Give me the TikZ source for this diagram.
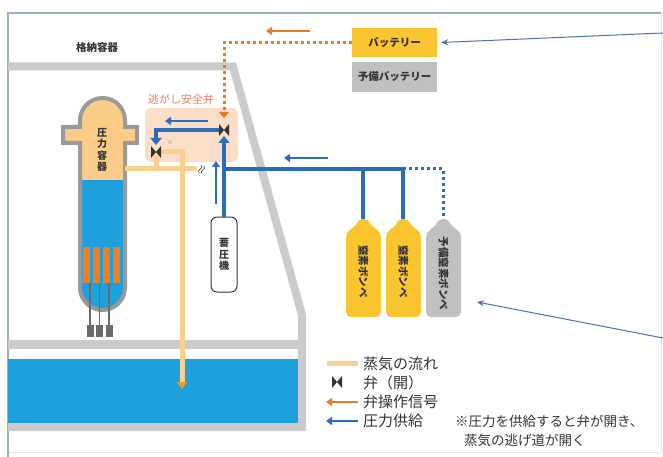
\documentclass[tikz,border=0pt]{standalone}
\usepackage{fontspec}
\setmainfont{Noto Sans CJK JP}
\usepackage{tikz}
\usetikzlibrary{arrows.meta}
\usepackage{xcolor}
\definecolor{pool-blue}{HTML}{1EA0DC}
\definecolor{wall-gray}{HTML}{CBCBCB}
\definecolor{hull-gray}{HTML}{999999}
\definecolor{steam}{HTML}{FBCF8F}
\definecolor{steam-tip}{HTML}{F39A2B}
\definecolor{signal}{HTML}{E97B22}
\definecolor{pipe-blue}{HTML}{2A6DB9}
\definecolor{srv-pink}{HTML}{FCDDC8}
\definecolor{srv-text}{HTML}{EE7C68}
\definecolor{gold}{HTML}{FBC52F}
\definecolor{spare-gray}{HTML}{C0C0C0}
\definecolor{rod}{HTML}{F07E24}
\definecolor{frame-blue}{HTML}{97AED0}
\definecolor{note-blue}{HTML}{4A72B2}
\definecolor{ink}{HTML}{333333}

\tikzset{
  valve/.pic={\fill[ink] (-5,-6) -- (5,6) -- (5,-6) -- (-5,6) -- cycle;},
  pipe/.style={pipe-blue, line width=4.5pt},
  spare pipe/.style={pipe-blue, line width=3pt, dash pattern=on 3pt off 3pt},
  steam pipe/.style={steam, line width=5pt},
  flow/.style={pipe-blue, line width=2.5pt, -{Triangle[length=6pt,width=8pt]}},
  sig/.style={signal, line width=2.5pt, -{Triangle[length=6pt,width=8pt]}},
  label/.style={text=ink, font=\bfseries\fontsize{10.5}{11}\selectfont, inner sep=0pt},
  stack/.style={label, align=center, font=\bfseries\fontsize{10}{11.5}\selectfont},
  batt/.style={label, minimum width=85pt, minimum height=29pt},
  legend/.style={text=ink, anchor=west, inner sep=0pt, font=\fontsize{15}{18}\selectfont},
  pointer/.style={note-blue, line width=1pt, -{Stealth[length=7pt,width=6pt]}}
}

\begin{document}
\begin{tikzpicture}[x=1pt, y=-1pt]
    \useasboundingbox (0,0) rectangle (663,457);

    % frame
    \draw[frame-blue!35, line width=1pt] (661,13) -- (661,452) -- (8,452);
    \draw[frame-blue, line width=1.2pt] (8,457) -- (8,13) -- (661,13);

    % containment walls and pool
    \fill[pool-blue] (8,359) rectangle (297.5,423);
    \draw[wall-gray, line width=8pt] (8,66.5) -- (233,66.5) -- (302,315) -- (302,427) -- (8,427);
    \draw[wall-gray, line width=9pt] (8,344.5) -- (302,344.5);
    \node[label] (pcv) at (97,48) {格納容器};

    % pressure vessel
    \draw[hull-gray, line width=4pt, path picture={
        \fill[steam!95!orange] (55,90) rectangle (145,180);
        \fill[pool-blue] (55,180) rectangle (145,320);}]
      (80,120.5) -- (80,127) -- (63,127) -- (63,143) -- (80,143) -- (80,287.5)
      arc[start angle=180, end angle=0, radius=22.5] -- (125,143) -- (137,143)
      -- (137,127) -- (125,127) -- (125,120.5)
      arc[start angle=0, end angle=-180, radius=22.5] -- cycle;
    \node[stack] (rpv) at (102,150) {圧\\力\\容\\器};
    \foreach \x in {86.5, 96.5, 106.5, 116.5}
      \fill[rod] (\x-3.5,247) rectangle (\x+3.5,283);
    \foreach \x in {90, 99.5, 109} {
      \draw[hull-gray!70!black, line width=1.5pt] (\x,283) -- (\x,326);
      \fill[hull-gray!70!black] (\x-3.5,325) rectangle (\x+3.5,337);
    }

    % safety relief valve
    \node[fill=srv-pink, rounded corners=6pt, minimum width=93pt, minimum height=54pt] (srv) at (191.5,135) {};
    \node[text=srv-text, inner sep=0pt, font=\fontsize{11}{12}\selectfont] (srv-label) at (181,99) {逃がし安全弁};
    \coordinate (pilot) at (224,130);
    \coordinate (main) at (156,152);
    \coordinate (hdr) at (403,169);
    \coordinate (tee) at (224,169);

    % steam path
    \draw[steam pipe] (125,169) -- (197,169);
    \draw[steam pipe] (main |- tee) -- ([yshift=-4pt]main);
    \draw[steam pipe, -{Triangle[length=7pt,width=10pt,color=steam-tip]}] ([xshift=4pt]main) -- (182,152) -- (182,389);
    \node[inner sep=0pt, font=\fontsize{12}{12}\selectfont, rotate=70] (gap) at (202,170) {$\approx$};
    \node[text=gray, inner sep=0pt, font=\fontsize{5}{5}\selectfont] (mark) at (170,143) {※};

    % accumulator and nitrogen bottles
    \node[draw=ink, fill=white, line width=1pt, rounded corners=6pt, minimum width=26pt, minimum height=75pt, stack] (accum) at (224,254.5) {蓄\\圧\\機};
    \foreach \x/\c in {363.5/gold, 403.5/gold, 443.5/spare-gray} {
      \fill[\c, rounded corners=5pt] (\x-17.5,317) -- (\x-17.5,232) -- (\x-6,225) -- (\x-6,219)
        -- (\x+6,219) -- (\x+6,225) -- (\x+17.5,232) -- (\x+17.5,317) -- cycle;
    }
    \node[label, rotate=-90] (n2a) at (363.5,271.5) {窒素ボンベ};
    \node[label, rotate=-90] (n2b) at (403.5,271.5) {窒素ボンベ};
    \node[label, rotate=-90] (n2c) at (443.5,273.5) {予備窒素ボンベ};

    % pressure supply
    \draw[pipe] (tee) -- (hdr) -- (403,219);
    \draw[pipe] (363,169) -- (363,219);
    \draw[spare pipe] (hdr) -| (443,219);
    \draw[pipe, -{Triangle[length=7pt,width=11pt]}] (accum.north) -- ([yshift=-6pt]pilot);
    \draw[pipe, -{Triangle[length=7pt,width=11pt]}] ([xshift=-4pt]pilot) -- (main |- pilot) -- ([yshift=7pt]main);
    \pic at (pilot) {valve};
    \pic at (main) {valve};
    \draw[flow] (208,121) -- (165,121);
    \draw[flow] (216,204) -- (216,161);
    \draw[flow] (328,158) -- (284,158);

    % batteries and valve signal
    \node[batt, fill=gold] (batt) at (394.5,42.5) {バッテリー};
    \node[batt, fill=spare-gray, minimum height=30pt] (spare) at (394.5,77) {予備バッテリー};
    \draw[signal, line width=3pt, dash pattern=on 3pt off 3pt, -{Triangle[length=6pt,width=10pt]}] (batt.west) -| ([yshift=12pt]pilot);
    \draw[sig] (310,31) -- (266,31);

    % pointers from the page edge
    \coordinate (ptr-a) at (663,33);
    \coordinate (ptr-b) at (663,338);
    \coordinate (ptr-b-end) at (477,302);
    \draw[pointer] (ptr-a) -- ([xshift=4pt]batt.east);
    \draw[pointer] (ptr-b) -- (ptr-b-end);

    % legend
    \draw[steam pipe] (327,363) -- (358,363);
    \node[legend] (lg-steam) at (363,364) {蒸気の流れ};
    \pic at (337,382) {valve};
    \node[legend] (lg-valve) at (363,383) {弁（開）};
    \draw[sig] (358,402) -- (326,402);
    \node[legend] (lg-sig) at (363,402) {弁操作信号};
    \draw[flow] (358,421) -- (326,421);
    \node[legend] (lg-press) at (363,421) {圧力供給};
    \node[legend, font=\fontsize{13.5}{16}\selectfont] (note1) at (455,421) {※圧力を供給すると弁が開き、};
    \node[legend, font=\fontsize{13.5}{16}\selectfont] (note2) at (464,440) {蒸気の逃げ道が開く};
\end{tikzpicture}
\end{document}
